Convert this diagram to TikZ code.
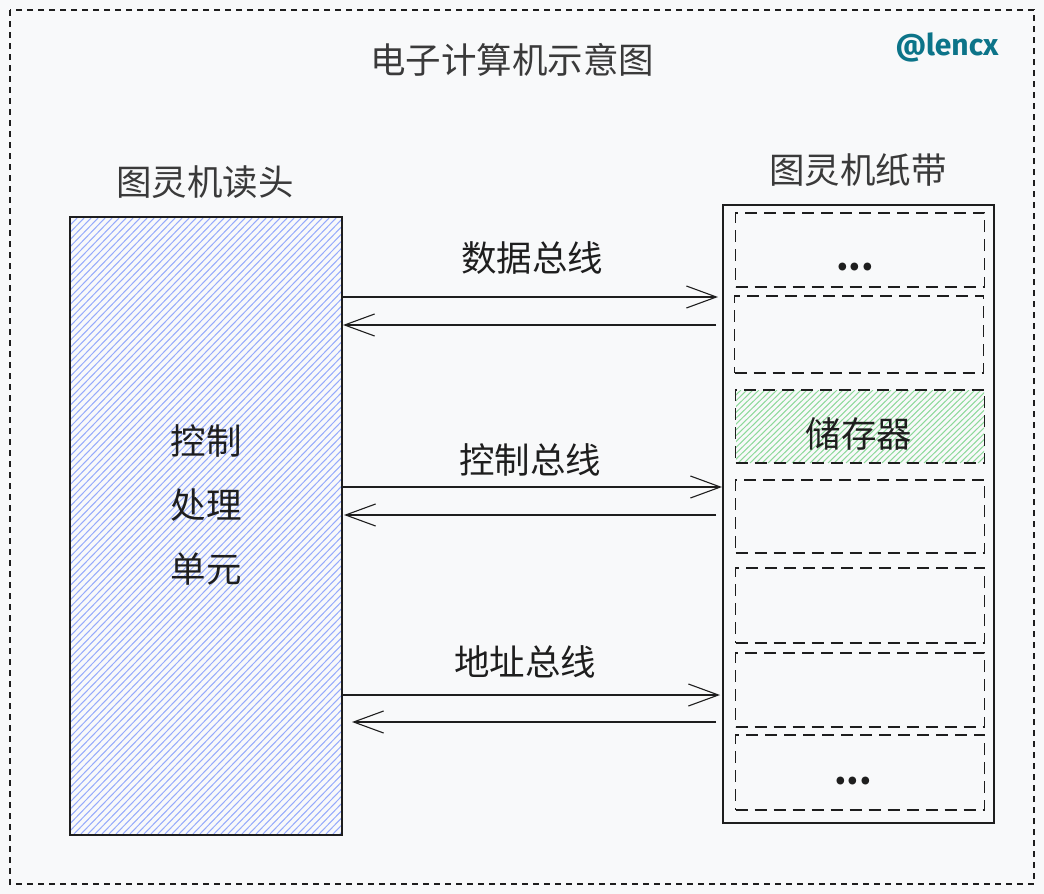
\documentclass[tikz,border=0pt]{standalone}
\usepackage{fontspec}
\setmainfont{Noto Sans CJK SC}
\newfontfamily\sigfont{Fira Sans}
\usetikzlibrary{arrows.meta}
\definecolor{bg}{HTML}{F8F9FA}
\definecolor{hblue}{HTML}{5C7CFA}
\definecolor{hgreen}{HTML}{40C057}
\definecolor{ink}{HTML}{1E1E1E}
\definecolor{gtext}{HTML}{3A3A3A}
\definecolor{sigteal}{HTML}{0C7489}
\tikzset{
  big/.style={font=\fontsize{35.5}{40}\selectfont, text=ink, inner sep=0pt},
  head/.style={font=\fontsize{35.5}{40}\selectfont, text=gtext, inner sep=0pt},
  cell/.style={draw=ink, dash pattern=on 12pt off 7pt, line width=1.4pt, minimum width=249pt, inner sep=0pt},
  bus/.style={draw=ink, line width=1.1pt, -{Straight Barb[length=30pt,width=22pt,line width=1.1pt]}},
  dots/.style={font=\fontsize{36}{36}\selectfont\bfseries, text=ink, inner sep=0pt}
}
\begin{document}
\begin{tikzpicture}[x=1pt,y=-1pt]
\useasboundingbox (0,0) rectangle (1044,894);
\fill[bg] (0,0) rectangle (1044,894);
% outer frame
\draw[ink, line width=1.1pt, dash pattern=on 6pt off 5pt] (10,10) rectangle (1034,884);
\node[head] (title) at (512,60) {电子计算机示意图};
\node[font=\sigfont\bfseries\fontsize{30}{32}\selectfont, text=sigteal, inner sep=0pt] (sig) at (947,47) {@lencx};

% left box (read head)
\begin{scope}
  \clip (70,217) rectangle (342,835);
  \foreach \k in {-620,-613,...,350} {
    \draw[hblue!65, line width=1pt] (\k,835) -- (\k+600,217);
  }
\end{scope}
\node[draw=ink, line width=1.4pt, minimum width=272pt, minimum height=618pt, inner sep=0pt] (cpu) at (206,526) {};
\node[big, align=center, font=\fontsize{35.5}{64}\selectfont] (cpulabel) at (206,505) {控制\\处理\\单元};
\node[head] (cpuhead) at (205,182) {图灵机读头};

% tape
\node[draw=ink, line width=1.4pt, minimum width=271pt, minimum height=618pt, inner sep=0pt] (tape) at (858.5,514) {};
\node[head] (tapehead) at (858,170) {图灵机纸带};

\begin{scope}
  \clip (736,390) rectangle (984,463);
  \foreach \k in {-120,-114,...,990} {
    \draw[hgreen!60, line width=1pt] (\k,463) -- (\k+75,390);
  }
\end{scope}
\node[cell, minimum height=74pt] (c1) at (860,250) {};
\node[cell, minimum height=77pt] (c2) at (859,334.5) {};
\node[cell, minimum height=73pt] (c3) at (860,426.5) {};
\node[cell, minimum height=73pt] (c4) at (860,516.5) {};
\node[cell, minimum height=75pt] (c5) at (860,605.5) {};
\node[cell, minimum height=74pt] (c6) at (860,690) {};
\node[cell, minimum height=75pt] (c7) at (860,772.5) {};
\node[dots] (d1) at (855,267) {...};
\node[dots] (d7) at (853,781) {...};
\node[big] (mem) at (859,434) {储存器};

% buses
\coordinate (dR1) at (342,297); \coordinate (dR2) at (718,297);
\coordinate (dL1) at (716,325); \coordinate (dL2) at (343,325);
\coordinate (cR1) at (342,487); \coordinate (cR2) at (722,487);
\coordinate (cL1) at (716,515); \coordinate (cL2) at (344,515);
\coordinate (aR1) at (342,695); \coordinate (aR2) at (720,695);
\coordinate (aL1) at (716,722); \coordinate (aL2) at (352,722);
\draw[bus] (dR1) -- (dR2);
\draw[bus] (dL1) -- (dL2);
\draw[bus] (cR1) -- (cR2);
\draw[bus] (cL1) -- (cL2);
\draw[bus] (aR1) -- (aR2);
\draw[bus] (aL1) -- (aL2);
\node[big] (dbus) at (532,258) {数据总线};
\node[big] (cbus) at (530,460) {控制总线};
\node[big] (abus) at (525,662) {地址总线};
\end{tikzpicture}
\end{document}
